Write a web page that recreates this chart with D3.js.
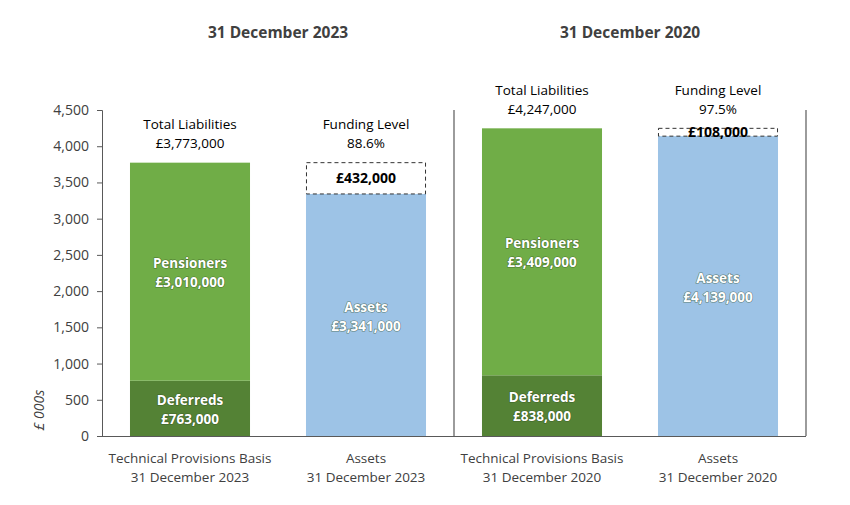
<!DOCTYPE html>
<html><head><meta charset="utf-8">
<script src="https://cdn.jsdelivr.net/npm/d3@7"></script>
<style>body{margin:0;background:#fff;} text{font-family:"Open Sans","Noto Sans",sans-serif;}</style>
</head><body><svg id="c" width="850" height="505"></svg>
<script>
const categories = ["Technical Provisions Basis|31 December 2023","Assets|31 December 2023","Technical Provisions Basis|31 December 2020","Assets|31 December 2020"];
const deferreds = [763, null, 838, null];
const pensioners = [3010, null, 3409, null];
const assets = [null, 3341, null, 4139];
const totals = [3773, 3773, 4247, 4247];
const deficits = [null, 432, null, 108];
const topLabels = [["Total Liabilities","£3,773,000"],["Funding Level","88.6%"],["Total Liabilities","£4,247,000"],["Funding Level","97.5%"]];
const deferredText = ["£763,000", null, "£838,000", null];
const pensionerText = ["£3,010,000", null, "£3,409,000", null];
const assetText = [null, "£3,341,000", null, "£4,139,000"];
const deficitText = [null, "£432,000", null, "£108,000"];
const groupTitles = ["31 December 2023","31 December 2020"];
const yTicks = [0,500,1000,1500,2000,2500,3000,3500,4000,4500];

(function(){
const svg = d3.select("#c");
const pl = 102, pr = 806, pt = 110, pb = 436;
const x = d3.scaleBand().domain(d3.range(categories.length)).range([pl,pr]).paddingInner(0.318).paddingOuter(0.159);
const y = d3.scaleLinear().domain([0,4500]).range([pb,pt]);
const txt = "#404040";

const ya = svg.append("g").attr("transform",`translate(${pl},0)`)
  .call(d3.axisLeft(y).tickValues(yTicks).tickSize(5).tickPadding(8).tickFormat(d3.format(",")));
ya.select(".domain").attr("stroke","#595959");
ya.selectAll(".tick line").attr("stroke","#595959");
ya.selectAll(".tick text").attr("fill",txt).style("font-size","14px");

svg.append("text").attr("transform",`translate(39,410) rotate(-90)`).attr("text-anchor","middle")
  .attr("dy","0.35em").style("font-size","14px").style("font-style","italic").attr("fill",txt).text("£ 000s");

const g = svg.append("g");
function bar(i,y0,y1,color){
  g.append("rect").attr("x",x(i)).attr("width",x.bandwidth()).attr("y",y(y1)).attr("height",y(y0)-y(y1)).attr("fill",color);
}
function twoLine(cx,cy,l1,l2,opts){
  const t = svg.append("text").attr("text-anchor","middle").attr("x",cx).attr("y",cy)
    .style("font-size",opts.size).style("font-weight",opts.weight).attr("fill",opts.fill);
  if(opts.shadow) t.style("paint-order","stroke").attr("stroke","#2d4a1c").attr("stroke-width",1.2).attr("stroke-opacity",0.6);
  t.append("tspan").attr("x",cx).attr("dy","-0.25em").text(l1);
  t.append("tspan").attr("x",cx).attr("dy","1.4em").text(l2);
}
categories.forEach((c,i)=>{
  if(deferreds[i]!=null){
    bar(i,0,deferreds[i],"#548235");
    bar(i,deferreds[i],deferreds[i]+pensioners[i],"#70AD47");
  }
  if(assets[i]!=null) bar(i,0,assets[i],"#9DC3E6");
});
categories.forEach((c,i)=>{
  if(deficits[i]!=null){
    g.append("rect").attr("x",x(i)+0.5).attr("width",x.bandwidth()-1).attr("y",y(totals[i])).attr("height",y(assets[i])-y(totals[i]))
      .attr("fill","none").attr("stroke","#333").attr("stroke-width",1).attr("stroke-dasharray","4,3");
  }
});
svg.append("line").attr("x1",pl).attr("x2",pr).attr("y1",pb+0.5).attr("y2",pb+0.5).attr("stroke","#595959");
const mid = (x(1)+x.bandwidth()+x(2))/2;
svg.append("line").attr("x1",mid).attr("x2",mid).attr("y1",pt).attr("y2",pb).attr("stroke","#595959").attr("stroke-width",1.2);
svg.append("line").attr("x1",pr).attr("x2",pr).attr("y1",pt).attr("y2",pb).attr("stroke","#595959").attr("stroke-width",1.2);

categories.forEach((c,i)=>{
  const cx = x(i)+x.bandwidth()/2;
  const o = {size:"13.5px",weight:"bold",fill:"#fff",shadow:true};
  if(deferreds[i]!=null){
    twoLine(cx,y(deferreds[i]/2),"Deferreds",deferredText[i],o);
    twoLine(cx,y(deferreds[i]+pensioners[i]/2),"Pensioners",pensionerText[i],o);
  }
  if(assets[i]!=null) twoLine(cx,y(assets[i]/2),"Assets",assetText[i],o);
  if(deficits[i]!=null){
    svg.append("text").attr("x",cx).attr("y",(y(totals[i])+y(assets[i]))/2).attr("dy","0.35em").attr("text-anchor","middle")
      .style("font-size","14px").style("font-weight","bold").attr("fill","#000").text(deficitText[i]);
  }
  twoLine(cx,y(totals[i])-30,topLabels[i][0],topLabels[i][1],{size:"13.5px",weight:"normal",fill:"#000"});
  const parts = c.split("|");
  const t = svg.append("text").attr("text-anchor","middle").style("font-size","13.5px").attr("fill",txt);
  t.append("tspan").attr("x",cx).attr("y",463).text(parts[0]);
  t.append("tspan").attr("x",cx).attr("y",482).text(parts[1]);
});
groupTitles.forEach((tt,k)=>{
  const cx = (x(2*k)+x(2*k+1)+x.bandwidth())/2;
  svg.append("text").attr("x",cx).attr("y",38).attr("text-anchor","middle").style("font-size","15.5px").style("font-weight","bold").attr("fill",txt).text(tt);
});
})();
</script></body></html>
